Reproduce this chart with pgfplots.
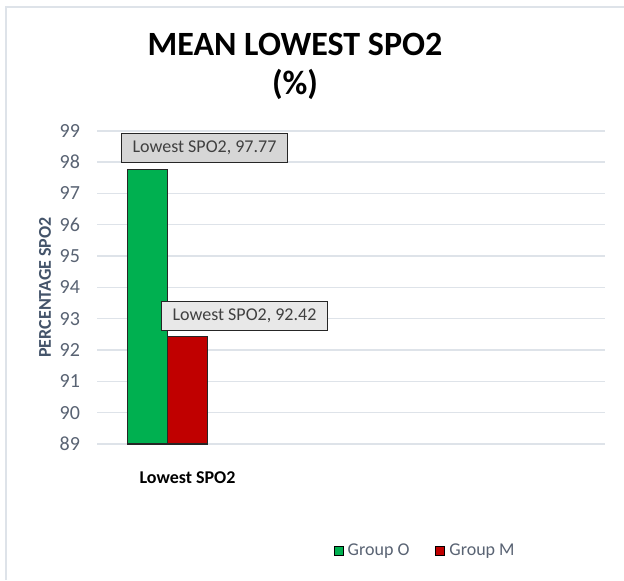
\documentclass[border=0pt]{standalone}
\usepackage{fontspec}
\setmainfont{Carlito}
\usepackage{pgfplots}
\pgfplotsset{compat=1.18}
\definecolor{gO}{RGB}{0,176,80}
\definecolor{gM}{RGB}{192,0,0}
\definecolor{tickc}{RGB}{89,99,115}
\definecolor{ylab}{RGB}{68,84,106}
\definecolor{gridc}{RGB}{222,227,233}
\definecolor{lbltxt}{RGB}{64,64,64}
\definecolor{box1}{RGB}{214,214,214}
\definecolor{box2}{RGB}{232,232,232}
\begin{document}
\begin{tikzpicture}
\clip (0,0) rectangle (312pt,290pt);
\useasboundingbox (0,0) rectangle (312pt,290pt);
\fill[white] (0,0) rectangle (312pt,290pt);
\draw[gridc, line width=0.6pt] (3pt,0) -- (3pt,286.5pt) -- (320pt,286.5pt);
\node[font=\bfseries\fontsize{17}{20}\selectfont] at (147.5pt,268pt) {MEAN LOWEST SPO2};
\node[font=\bfseries\fontsize{17}{20}\selectfont] at (147.5pt,248pt) {(\%)};
\begin{axis}[
  at={(48.5pt,68pt)}, anchor=south west,
  scale only axis, width=254pt, height=156.6pt,
  ymin=89, ymax=99, ytick={89,...,99},
  xmin=-1.7625, xmax=10.9375,
  xtick={0}, xticklabels={Lowest SPO2},
  ybar=0pt, bar width=20pt,
  clip mode=individual,
  axis line style={draw=none},
  tick style={draw=none},
  ymajorgrids, major grid style={gridc, line width=0.7pt},
  /pgf/number format/assume math mode=true,
  yticklabel style={font=\fontsize{10}{11}\selectfont, text=tickc, xshift=-5pt},
  xticklabel style={font=\bfseries\fontsize{9}{10}\selectfont, anchor=center, yshift=-12.5pt, xshift=10pt},
  ylabel={PERCENTAGE SPO2},
  ylabel style={font=\bfseries\fontsize{9}{10}\selectfont, text=ylab, at={(axis description cs:0,0.5)}, anchor=center, yshift=26pt},
  legend style={at={(axis description cs:0.648,-0.3415)}, anchor=center, draw=none, fill=none,
    legend columns=2, font=\fontsize{9}{10}\selectfont, text=tickc,
    /tikz/every even column/.append style={column sep=11pt}},
  legend image code/.code={\draw[draw=black, line width=0.5pt] (-1.5pt,-2.2pt) rectangle (3pt,2.2pt);},
  every node near coord/.append style={font=\fontsize{9}{10}\selectfont, text=lbltxt, draw=black!85, line width=0.6pt,
    minimum height=14.5pt, inner xsep=5.5pt, anchor=south, xshift=28.5pt, yshift=3pt},
]
\addplot[fill=gO, draw=black!85, line width=0.6pt,
  nodes near coords={Lowest SPO2, \pgfmathprintnumber[fixed,precision=2,fixed zerofill]{\pgfplotspointmeta}},
  every node near coord/.append style={fill=box1}]
  coordinates {(0,97.77)};
\addlegendentry{Group O}
\addplot[fill=gM, draw=black!85, line width=0.6pt,
  nodes near coords={Lowest SPO2, \pgfmathprintnumber[fixed,precision=2,fixed zerofill]{\pgfplotspointmeta}},
  every node near coord/.append style={fill=box2}]
  coordinates {(0,92.42)};
\addlegendentry{Group M}
\end{axis}
\end{tikzpicture}
\end{document}
